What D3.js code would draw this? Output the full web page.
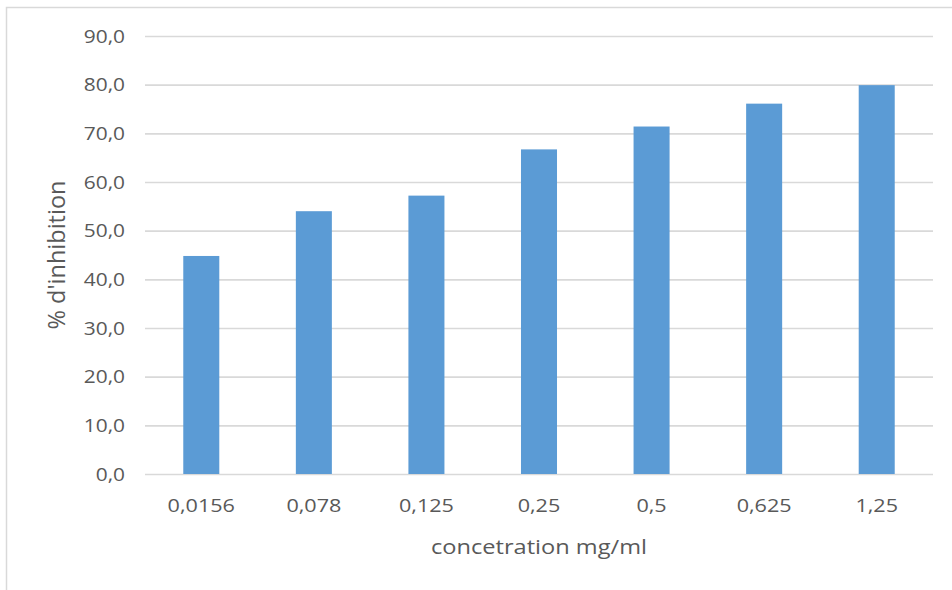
<!DOCTYPE html>
<html><head><meta charset="utf-8">
<script src="https://cdn.jsdelivr.net/npm/d3@7"></script>
<style>
html,body{margin:0;padding:0;background:#fff;}
svg{display:block;font-family:"Open Sans",sans-serif;}
</style></head>
<body>
<svg id="chart" width="952" height="590"></svg>
<script>
const categories = ["0,0156","0,078","0,125","0,25","0,5","0,625","1,25"];
const inhibition = [44.8, 54.0, 57.2, 66.7, 71.4, 76.1, 79.9];
const yTicks = [0,10,20,30,40,50,60,70,80,90];
const xTitle = "concetration mg/ml";
const yTitle = "% d'inhibition";

const W = 952, H = 590;
const m = {left:145, right:19, top:36, bottom:116};
const svg = d3.select("#chart");

svg.append("rect").attr("x",6.5).attr("y",7.5).attr("width",W+10).attr("height",H+10)
  .attr("fill","#fff").attr("stroke","#d9d9d9").attr("stroke-width",1.5);

const x = d3.scaleBand().domain(categories).range([m.left, W-m.right])
  .paddingInner(0.68).paddingOuter(0.34);
const y = d3.scaleLinear().domain([0,90]).range([H-m.bottom, m.top]);

const fmt = d => d3.format(".1f")(d).replace(".", ",");

function stretch(sel,k){
  sel.each(function(){
    const L = this.getComputedTextLength();
    this.setAttribute("textLength", L*k);
    this.setAttribute("lengthAdjust","spacingAndGlyphs");
  });
}

// y axis + gridlines
const yAxis = svg.append("g").attr("transform",`translate(${m.left},0)`)
  .call(d3.axisLeft(y).tickValues(yTicks).tickFormat(fmt)
    .tickSize(-(W-m.left-m.right)).tickPadding(20));
yAxis.select(".domain").remove();
yAxis.selectAll(".tick line").attr("stroke","#d9d9d9").attr("stroke-width",1.6);
yAxis.selectAll(".tick text").attr("fill","#595959").attr("font-size",18)
  .attr("font-family","'Open Sans',sans-serif").attr("dy","0.35em");
stretch(yAxis.selectAll(".tick text"),1.16);

// bars
svg.append("g").selectAll("rect").data(inhibition).join("rect")
  .attr("x",(d,i)=>x(categories[i]))
  .attr("width",x.bandwidth())
  .attr("y",d=>y(d))
  .attr("height",d=>y(0)-y(d))
  .attr("fill","#5b9bd5");

// x axis
const xAxis = svg.append("g").attr("transform",`translate(0,${y(0)})`)
  .call(d3.axisBottom(x).tickSize(0).tickPadding(25));
xAxis.select(".domain").remove();
xAxis.selectAll(".tick text").attr("fill","#595959").attr("font-size",18)
  .attr("font-family","'Open Sans',sans-serif");
stretch(xAxis.selectAll(".tick text"),1.2);

// titles
const xt = svg.append("text").attr("x",(m.left+W-m.right)/2).attr("y",554)
  .attr("text-anchor","middle").attr("fill","#595959").attr("font-size",20)
  .text(xTitle);
stretch(xt,1.18);

svg.append("text").attr("transform",`translate(65,${(y(0)+y(90))/2}) rotate(-90)`)
  .attr("text-anchor","middle").attr("fill","#595959").attr("font-size",23.5)
  .text(yTitle);
</script>
</body></html>
